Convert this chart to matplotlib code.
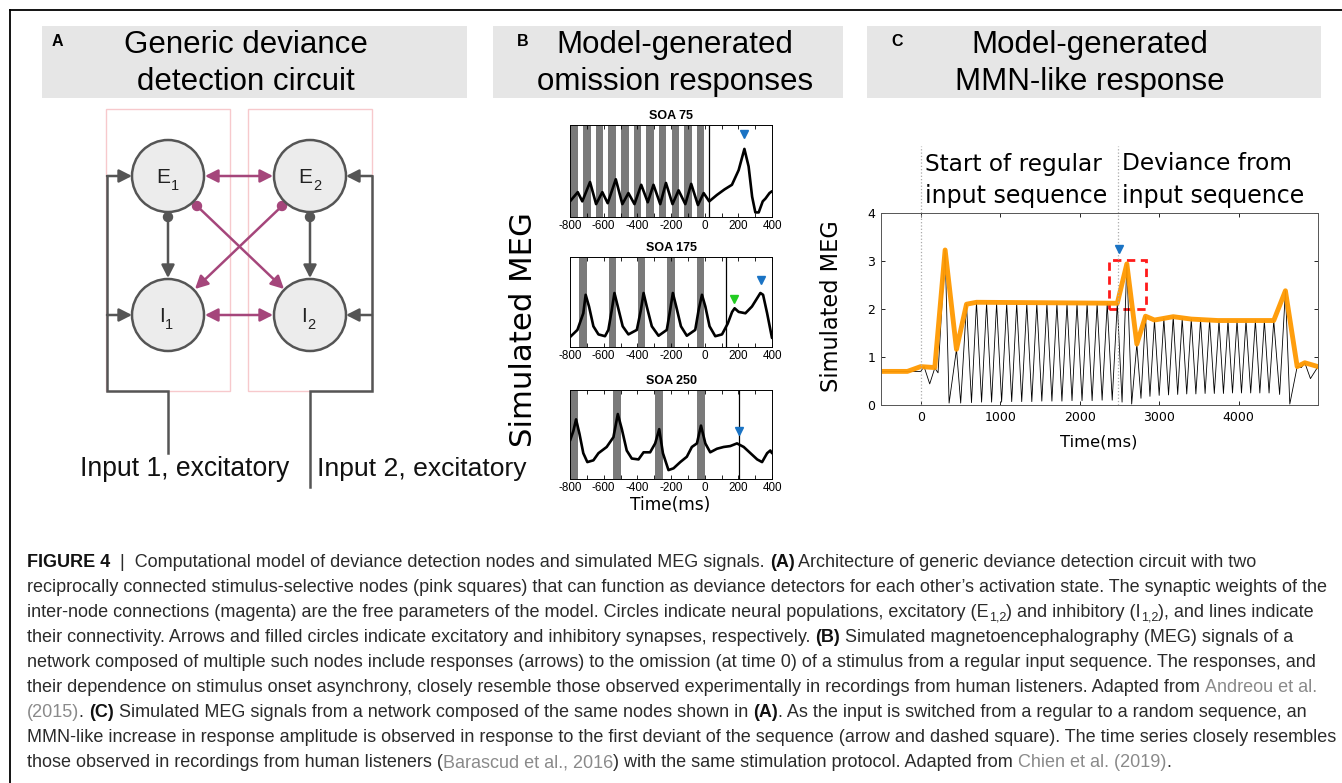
import numpy as np
import matplotlib.pyplot as plt
from matplotlib import font_manager
from matplotlib.patches import Rectangle, Circle, FancyArrowPatch

plt.rcParams['axes.unicode_minus'] = False

W, H = 1342, 783

# ---------------- data: panel B (time in ms, signal in a.u.) ----------------
b_ticks = [-800, -600, -400, -200, 0, 200, 400]

soa75_bars = [-797, -722, -647, -572, -497, -422, -347, -272, -197, -122, -47]
soa75_t = [-800, -754, -727, -681, -645, -608, -576, -528, -489, -453, -417, -377,
           -338, -304, -264, -230, -191, -155, -115, -80, -40, -6, 27, 73, 118, 162,
           202, 236, 261, 282, 301, 321, 345, 361, 385, 400]
soa75_v = [0.17, 0.27, 0.17, 0.38, 0.14, 0.27, 0.15, 0.41, 0.14, 0.26, 0.14, 0.35,
           0.16, 0.35, 0.14, 0.37, 0.14, 0.29, 0.14, 0.36, 0.13, 0.26, 0.17, 0.24,
           0.30, 0.35, 0.51, 0.74, 0.55, 0.22, 0.05, 0.05, 0.17, 0.20, 0.26, 0.28]

soa175_bars = [-745, -568, -397, -223, -46]
soa175_t = [-800, -756, -721, -707, -687, -661, -631, -592, -572, -552, -536, -516,
            -487, -453, -403, -379, -363, -344, -314, -274, -225, -205, -189, -169,
            -141, -106, -56, -36, -16, 4, 29, 63, 103, 137, 163, 178, 202, 242, 281,
            331, 347, 371, 400]
soa175_v = [0.11, 0.19, 0.375, 0.58, 0.45, 0.23, 0.14, 0.12, 0.19, 0.41, 0.60, 0.45,
            0.23, 0.14, 0.19, 0.41, 0.60, 0.45, 0.23, 0.125, 0.19, 0.41, 0.60, 0.45,
            0.23, 0.125, 0.19, 0.41, 0.58, 0.45, 0.23, 0.12, 0.14, 0.26, 0.39, 0.43,
            0.39, 0.375, 0.45, 0.60, 0.58, 0.375, 0.10]

soa250_bars = [-800, -546, -296, -46]
soa250_t = [-800, -780, -764, -744, -721, -697, -661, -631, -582, -542, -516, -492,
            -463, -433, -393, -363, -324, -294, -270, -248, -215, -185, -145, -106,
            -76, -46, -22, 4, 33, 73, 113, 152, 192, 232, 272, 312, 341, 371, 390, 400]
soa250_v = [0.43, 0.54, 0.67, 0.51, 0.29, 0.19, 0.21, 0.29, 0.36, 0.47, 0.73, 0.56,
            0.32, 0.23, 0.22, 0.30, 0.30, 0.40, 0.56, 0.29, 0.10, 0.12, 0.19, 0.25,
            0.36, 0.40, 0.60, 0.40, 0.30, 0.34, 0.36, 0.37, 0.40, 0.36, 0.29, 0.22,
            0.19, 0.29, 0.32, 0.29]

# stimulus bar width (ms), omission line (ms), arrow markers (ms, a.u.)
soa_bar_width = [45, 44, 48]
soa_vline = [23, 125, 202]
soa_blue = [(236, 0.90), (335, 0.75), (204, 0.54)]
soa_green = (176, 0.53)

# ---------------- data: panel C ----------------
sig_t = [-500, 0, 42, 113, 177, 218, 307, 357, 450, 503,
         576, 639, 702, 766, 829, 892, 955, 1018, 1082, 1145, 1208, 1271, 1335,
         1398, 1461, 1524, 1588, 1651, 1714, 1777, 1841, 1904, 1967, 2030, 2094,
         2157, 2220, 2283, 2347, 2410, 2474, 2534, 2594, 2655, 2720, 2772, 2829,
         2885, 2942, 3001, 3060, 3119, 3178, 3234, 3291, 3348, 3405, 3463, 3522,
         3579, 3636, 3695, 3754, 3810, 3867, 3924, 3981, 4037, 4094, 4153, 4212,
         4268, 4325, 4384, 4443, 4517, 4590, 4645, 4738, 4790, 4834, 4905, 5000]
sig_v = [0.70, 0.70, 0.80, 0.44, 0.77, 0.67, 3.23, 0.04, 1.16, 0.04,
         2.10, 0.05, 2.14, 0.06, 2.13, 0.06, 2.12, 0.06, 2.12, 0.07, 2.12, 0.07, 2.12,
         0.07, 2.12, 0.08, 2.12, 0.08, 2.12, 0.08, 2.12, 0.09, 2.12, 0.09, 2.12,
         0.09, 2.12, 0.10, 2.12, 0.10, 2.12, 0.06, 2.94, 0.02, 1.27, 0.14, 1.85,
         0.18, 1.77, 0.20, 1.80, 0.21, 1.84, 0.22, 1.80, 0.23, 1.79, 0.23, 1.78,
         0.24, 1.77, 0.24, 1.76, 0.24, 1.76, 0.25, 1.76, 0.25, 1.76, 0.25, 1.76,
         0.25, 1.76, 0.25, 1.76, 0.22, 2.38, 0.02, 0.80, 0.78, 0.88, 0.55, 0.80]
env_t = [-500, -168, 0, 177, 307, 450, 576, 702, 2474, 2594, 2720, 2829, 2942,
         3178, 3405, 3740, 4443, 4590, 4738, 4834, 5000]
env_v = [0.70, 0.70, 0.80, 0.78, 3.23, 1.16, 2.10, 2.14, 2.12, 2.94, 1.27, 1.85,
         1.77, 1.84, 1.79, 1.76, 1.76, 2.38, 0.80, 0.88, 0.80]
c_events = [0, 2480]
c_arrow = (2493, 3.26)
c_box = (2375, 2.01, 462, 1.01)

caption = [
    [("FIGURE 4", "b"), ("  |  Computational model of deviance detection nodes and simulated MEG signals. ", "n"),
     ("(A)", "b"), (" Architecture of generic deviance detection circuit with two", "n")],
    [("reciprocally connected stimulus-selective nodes (pink squares) that can function as deviance "
      "detectors for each other\u2019s activation state. The synaptic weights of the", "n")],
    [("inter-node connections (magenta) are the free parameters of the model. Circles indicate neural "
      "populations, excitatory (E", "n"), ("1,2", "s"), (") and inhibitory (I", "n"), ("1,2", "s"),
     ("), and lines indicate", "n")],
    [("their connectivity. Arrows and filled circles indicate excitatory and inhibitory synapses, "
      "respectively. ", "n"), ("(B)", "b"), (" Simulated magnetoencephalography (MEG) signals of a", "n")],
    [("network composed of multiple such nodes include responses (arrows) to the omission (at time 0) "
      "of a stimulus from a regular input sequence. The responses, and", "n")],
    [("their dependence on stimulus onset asynchrony, closely resemble those observed experimentally "
      "in recordings from human listeners. Adapted from ", "n"), ("Andreou et al.", "g")],
    [("(2015)", "g"), (". ", "n"), ("(C)", "b"),
     (" Simulated MEG signals from a network composed of the same nodes shown in ", "n"), ("(A)", "b"),
     (". As the input is switched from a regular to a random sequence, an", "n")],
    [("MMN-like increase in response amplitude is observed in response to the first deviant of the "
      "sequence (arrow and dashed square). The time series closely resembles", "n")],
    [("those observed in recordings from human listeners (", "n"), ("Barascud et al., 2016", "g"),
     (") with the same stimulation protocol. Adapted from ", "n"), ("Chien et al. (2019)", "g"), (".", "n")],
]

names = {f.name for f in font_manager.fontManager.ttflist}
cap_font = 'Liberation Sans Narrow' if 'Liberation Sans Narrow' in names else 'Liberation Sans'
sans = 'Liberation Sans'

fig = plt.figure(figsize=(W / 100, H / 100), dpi=100)
bg = fig.add_axes([0, 0, 1, 1])
bg.set_xlim(0, W)
bg.set_ylim(H, 0)
bg.axis('off')
renderer = fig.canvas.get_renderer()


def px_axes(x0, y0, x1, y1):
    return fig.add_axes([x0 / W, 1 - y1 / H, (x1 - x0) / W, (y1 - y0) / H])


def text_width(s, **kw):
    t = bg.text(0, 0, '|' + s + '|', **kw)
    t2 = bg.text(0, 0, '||', **kw)
    w = t.get_window_extent(renderer).width - t2.get_window_extent(renderer).width
    t.remove()
    t2.remove()
    return w


def fit(x, y, s, width, rot=0, **kw):
    t = bg.text(x, y, s, fontsize=10, rotation=rot, **kw)
    bb = t.get_window_extent(renderer)
    size = bb.height if rot else bb.width
    t.set_fontsize(10 * width / size)
    return t


# frame
bg.plot([10, W], [10, 10], color='k', lw=1.3)
bg.plot([10, 10], [10, H], color='k', lw=1.3)

# header boxes
heads = [(42, 467, 'A', 57, 'Generic deviance', 'detection circuit', 246),
         (493, 843, 'B', 523, 'Model-generated', 'omission responses', 675),
         (867, 1321, 'C', 897, 'Model-generated', 'MMN-like response', 1090)]
tmp = fit(0, 0, 'Model-generated', 237, family=sans)
head_size = tmp.get_fontsize()
tmp.remove()
for x0, x1, letter, lx, l1, l2, cx in heads:
    bg.add_patch(Rectangle((x0, 26), x1 - x0, 72, fc='#e6e6e6', ec='none'))
    bg.text(lx, 42, letter, fontsize=11.5, fontweight='bold', family=sans, ha='center', va='center')
    bg.text(cx, 45, l1, fontsize=head_size, family=sans, ha='center', va='center')
    bg.text(cx, 82, l2, fontsize=head_size, family=sans, ha='center', va='center')

# ---------------- panel A: circuit diagram ----------------
gray = '#555555'
mag = '#a5467b'
pink = '#f7c9cc'
bg.add_patch(Rectangle((106, 109), 124, 282, fill=False, ec=pink, lw=1))
bg.add_patch(Rectangle((248, 109), 124, 282, fill=False, ec=pink, lw=1))

bg.plot([168, 168, 107, 107], [453, 391, 391, 176], color=gray, lw=1.8, solid_joinstyle='miter')
bg.plot([310, 310, 372, 372], [487, 391, 391, 176], color=gray, lw=1.8, solid_joinstyle='miter')


def arrow(p0, p1, color, style='-|>', ms=14):
    bg.add_patch(FancyArrowPatch(p0, p1, arrowstyle=style + ',head_length=0.55,head_width=0.28',
                                 mutation_scale=ms, color=color, lw=1.8,
                                 shrinkA=0, shrinkB=0))


for yy in (176, 315):
    arrow((107, yy), (132, yy), gray)
    arrow((372, yy), (346, yy), gray)
    arrow((205, yy), (273, yy), mag, style='<|-|>')
for xx in (168, 310):
    arrow((xx, 217), (xx, 278), gray)
    bg.add_patch(Circle((xx, 217), 4.5, color=gray))
arrow((197, 206), (284, 289), mag)
arrow((282, 206), (195, 289), mag)
bg.add_patch(Circle((197, 206), 4.5, color=mag))
bg.add_patch(Circle((282, 206), 4.5, color=mag))

nodes = [(168, 176, 'E', '1'), (310, 176, 'E', '2'), (168, 315, 'I', '1'), (310, 315, 'I', '2')]
for cx, cy, lab, sub in nodes:
    bg.add_patch(Circle((cx, cy), 36, fc='#ececec', ec=gray, lw=1.8, zorder=3))
    off = -5 if lab == 'E' else -6
    bg.text(cx + off, cy + 7, lab, fontsize=15, family=sans, ha='center', va='baseline', color='#222', zorder=4)
    sx = cx + (7 if lab == 'E' else 1)
    bg.text(sx, cy + 14, sub, fontsize=10.5, family=sans, ha='center', va='baseline', color='#222', zorder=4)

fit(80, 469, 'Input 1, excitatory', 210, family=sans, va='center', color='#111')
fit(317, 469, 'Input 2, excitatory', 210, family=sans, va='center', color='#111')

# ---------------- panel B: omission responses ----------------
b_rows = [(125, 217, 'SOA 75', soa75_bars, soa75_t, soa75_v),
          (257, 347, 'SOA 175', soa175_bars, soa175_t, soa175_v),
          (390, 479, 'SOA 250', soa250_bars, soa250_t, soa250_v)]
for i, (y0, y1, name, bars, t, v) in enumerate(b_rows):
    ax = px_axes(570, y0, 772, y1)
    ax.set_xlim(-800, 400)
    ax.set_ylim(0, 1)
    for b in bars:
        ax.axvspan(b, b + soa_bar_width[i], color='#7a7a7a', lw=0)
    ax.axvline(soa_vline[i], color='k', lw=0.9)
    ax.plot(t, v, color='k', lw=1.9, solid_joinstyle='round', solid_capstyle='round')
    bx, by = soa_blue[i]
    ax.plot(bx, by, marker='v', color='#1a73c4', ms=5.5, ls='none')
    if i == 1:
        ax.plot(*soa_green, marker='v', color='#22cc22', ms=5.5, ls='none')
    ax.set_xticks(b_ticks)
    ax.set_xticklabels([str(k) for k in b_ticks], family=sans, fontsize=8.4)
    ax.set_xticks(range(-700, 400, 200), minor=True)
    ax.set_yticks([])
    ax.tick_params(axis='x', which='both', direction='in', top=True, length=3, width=0.6, pad=2.5)
    for s in ax.spines.values():
        s.set_linewidth(0.7)
    bg.text(671, y0 - 9, name, fontsize=9, fontweight='bold', family=sans, ha='center', va='center')

fit(523, 330, 'Simulated MEG', 235, rot=90, family='DejaVu Sans', ha='center', va='center')
fit(630, 505, 'Time(ms)', 80, family='DejaVu Sans', va='center')

# ---------------- panel C: MMN-like response ----------------
axc = px_axes(881, 213, 1318, 405)
axc.set_xlim(-500, 5000)
axc.set_ylim(0, 4)
axc.plot(sig_t, sig_v, color='k', lw=0.6)
axc.plot(env_t, env_v, color='#ff9900', lw=3.5, solid_joinstyle='round', alpha=0.95)
for ev in c_events:
    axc.plot([ev, ev], [0, 5.4], color='#aaaaaa', ls=':', lw=0.9, clip_on=False)
axc.plot(*c_arrow, marker='v', color='#1a73c4', ms=6, ls='none')
bx0, by0, bw, bh = c_box
axc.add_patch(Rectangle((bx0, by0), bw, bh, fill=False, ec='#ff1a1a', ls=(0, (3, 2)), lw=2))
axc.set_xticks([0, 1000, 2000, 3000, 4000])
axc.set_yticks([0, 1, 2, 3, 4])
axc.tick_params(direction='in', top=True, right=True, length=3, width=0.6, labelsize=9, pad=4)
for s in axc.spines.values():
    s.set_linewidth(0.7)
    s.set_color('#555555')

fit(832, 306, 'Simulated MEG', 172, rot=90, family='DejaVu Sans', ha='center', va='center')
fit(1060, 442, 'Time(ms)', 77, family='DejaVu Sans', ha='left', va='center')
fit(925, 164, 'Start of regular', 178, family='DejaVu Sans', va='center')
fit(925, 196, 'input sequence', 182, family='DejaVu Sans', va='center')
fit(1122, 164, 'Deviance from', 170, family='DejaVu Sans', va='center')
fit(1122, 196, 'input sequence', 182, family='DejaVu Sans', va='center')

# ---------------- caption ----------------
styles = {'n': dict(color='#2b2b2b'), 'b': dict(color='#111111', fontweight='bold'),
          'g': dict(color='#8a8a8a'), 's': dict(color='#2b2b2b')}
line2 = caption[1][0][0]
cap_size = 10 * 1306 / text_width(line2, fontsize=10, family=cap_font)
for i, segs in enumerate(caption):
    x = 27
    y = 567 + 25 * i
    for s, st in segs:
        size = cap_size * 0.7 if st == 's' else cap_size
        dy = 4 if st == 's' else 0
        kw = dict(fontsize=size, family=cap_font, **styles[st])
        bg.text(x, y + dy, s, va='baseline', ha='left', **kw)
        x += text_width(s, **kw)

fig.savefig('out.png', dpi=100)
